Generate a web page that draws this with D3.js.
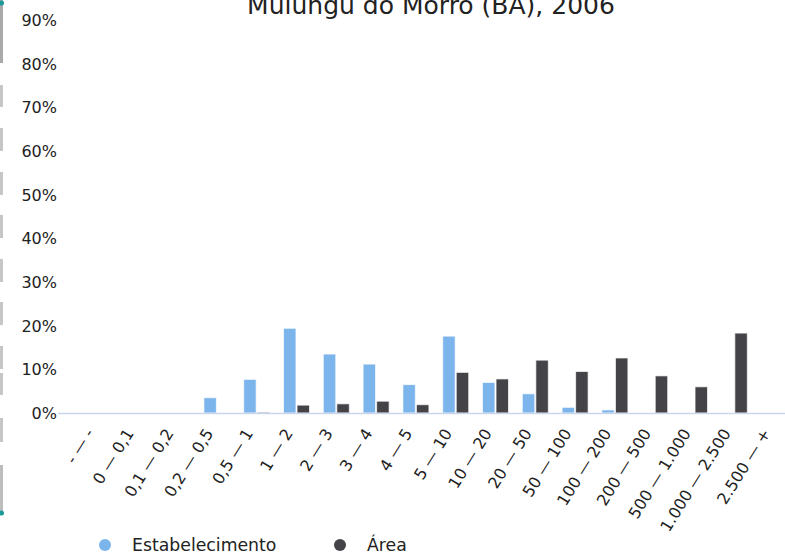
<!DOCTYPE html>
<html>
<head>
<meta charset="utf-8">
<script src="https://cdn.jsdelivr.net/npm/d3@7"></script>
<style>
  body { margin: 0; background: #fff; }
  text { font-family: "DejaVu Sans", sans-serif; fill: #222; }
</style>
</head>
<body>
<div id="chart"></div>
<script>
// faixas de área (ha)
let categories = ['- — -', '0 — 0,1', '0,1 — 0,2', '0,2 — 0,5', '0,5 — 1', '1 — 2', '2 — 3', '3 — 4', '4 — 5',
    '5 — 10', '10 — 20', '20 — 50', '50 — 100', '100 — 200', '200 — 500', '500 — 1.000', '1.000 — 2.500', '2.500 — +'];
let estabelecimento = [0, 0, 0, 3.5, 7.7, 19.4, 13.5, 11.2, 6.5, 17.6, 7.0, 4.4, 1.3, 0.7, 0, 0, 0, 0];
let area = [0, 0, 0, 0, 0.2, 1.8, 2.1, 2.7, 1.9, 9.3, 7.8, 12.1, 9.5, 12.6, 8.5, 6.0, 18.3, 0];
let yTicks = [0, 10, 20, 30, 40, 50, 60, 70, 80, 90];
let seriesNames = ['Estabelecimento', 'Área'];
let colors = ['#7cb5ec', '#434348'];

let drawChart = function () {
    var w = 785, h = 553;
    const svg = d3.select('#chart').append('svg')
        .attr('width', w)
        .attr('height', h);

    // left strip (cropped widget edge)
    var strip = [[0, 63, '#a9a9a9'], [85, 107, '#c6c6c6'], [128, 151, '#c6c6c6'], [172, 195, '#c6c6c6'],
        [215, 238, '#c6c6c6'], [259, 282, '#c6c6c6'], [302, 325, '#c6c6c6'], [346, 369, '#c6c6c6'],
        [373, 395, '#c6c6c6'], [418, 442, '#c6c6c6'], [465, 513, '#bdbdbd']];
    svg.selectAll('rect.strip')
        .data(strip)
        .enter()
        .append('rect')
        .attr('class', 'strip')
        .attr('x', 0)
        .attr('y', d => d[0])
        .attr('width', 3)
        .attr('height', d => d[1] - d[0])
        .attr('fill', d => d[2]);
    svg.selectAll('circle.dot')
        .data([3, 513])
        .enter()
        .append('circle')
        .attr('cx', 1.5)
        .attr('cy', d => d)
        .attr('r', 2.5)
        .attr('fill', '#1a9a9a');

    const x = d3.scaleBand()
        .domain(categories)
        .range([77.6, 794])
        .paddingInner(0)
        .paddingOuter(0);
    const y = d3.scaleLinear()
        .domain([0, 90])
        .range([413, 20]);

    const inner = d3.scaleBand()
        .domain(seriesNames)
        .range([x.bandwidth() / 2 - 13, x.bandwidth() / 2 + 13])
        .paddingInner(0.08);

    // y axis labels
    const yAxis = d3.axisLeft(y)
        .tickValues(yTicks)
        .tickSize(0)
        .tickPadding(0)
        .tickFormat(d => d + '%');
    svg.append('g')
        .attr('transform', 'translate(57,0)')
        .call(yAxis)
        .call(g => g.select('.domain').remove())
        .selectAll('text')
        .attr('font-size', 16)
        .attr('font-family', '"DejaVu Sans", sans-serif')
        .attr('fill', '#222')
        .attr('dy', '0.35em');

    // bars
    var series = [estabelecimento, area];
    series.forEach(function (vals, si) {
        svg.append('g')
            .selectAll('rect')
            .data(vals)
            .enter()
            .append('rect')
            .attr('x', (d, i) => x(categories[i]) + inner(seriesNames[si]))
            .attr('y', d => y(d))
            .attr('width', inner.bandwidth())
            .attr('height', d => y(0) - y(d))
            .attr('fill', colors[si])
            .attr('stroke', '#fff')
            .attr('stroke-width', 1)
            .attr('stroke-opacity', d => d > 0 ? 0.7 : 0);
    });

    // x axis line
    svg.append('line')
        .attr('x1', 58)
        .attr('x2', w)
        .attr('y1', y(0) + 0.5)
        .attr('y2', y(0) + 0.5)
        .attr('stroke', '#ccd6eb')
        .attr('stroke-width', 1.5);

    // x labels
    svg.append('g')
        .selectAll('text')
        .data(categories)
        .enter()
        .append('text')
        .attr('transform', d => 'translate(' + (x(d) + x.bandwidth() / 2 - 3) + ',433) rotate(-58)')
        .attr('text-anchor', 'end')
        .attr('font-size', 16)
        .text(d => d);

    // title
    svg.append('text')
        .attr('x', 431)
        .attr('y', 14)
        .attr('text-anchor', 'middle')
        .attr('font-size', 25)
        .text('Mulungu do Morro (BA), 2006');

    // legend
    var legX = [105, 340];
    var leg = svg.append('g')
        .selectAll('g')
        .data(seriesNames)
        .enter()
        .append('g')
        .attr('transform', (d, i) => 'translate(' + legX[i] + ',545)');
    leg.append('circle')
        .attr('r', 6)
        .attr('fill', (d, i) => colors[i]);
    leg.append('text')
        .attr('x', 27)
        .attr('dy', '0.35em')
        .attr('font-size', 17.3)
        .text(d => d);

    svg.node();
}

drawChart();
</script>
</body>
</html>
